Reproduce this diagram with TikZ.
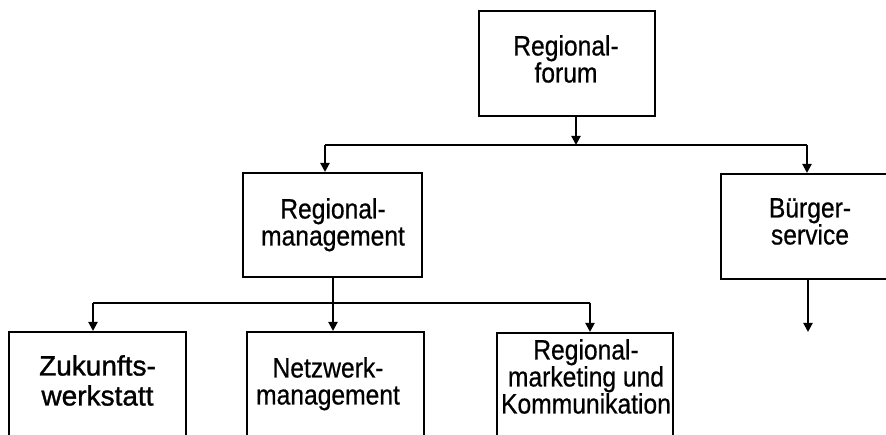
\documentclass[tikz,border=0pt]{standalone}
\usepackage{fontspec}
\setmainfont[FakeStretch=0.88,FakeBold=0.6]{Liberation Sans}
\newfontfamily\widefont[FakeBold=1.2]{Liberation Sans}
\usetikzlibrary{arrows.meta}
\begin{document}
\begin{tikzpicture}[x=1pt,y=-1pt,
  box/.style={draw,line width=2pt,minimum width=177pt,minimum height=105pt,inner sep=0pt},
  lbl/.style={anchor=north,inner sep=0pt,align=center,font=\fontsize{28}{27}\selectfont},
  conn/.style={line width=2pt},
  arr/.style={conn,-{Triangle[width=9pt,length=9pt]}}]
\useasboundingbox (0,0) rectangle (886,435);
\clip (0,0) rectangle (886,435);
% boxes
\node[box,minimum width=176pt] (top) at (567,63.5) {};
\node[box,minimum width=179pt,minimum height=104pt] (rm) at (332.5,225) {};
\node[box,minimum width=174pt] (bs) at (808,226.5) {};
\node[box] (zw) at (97.5,384.5) {};
\node[box] (nm) at (335.5,384.5) {};
\node[box,minimum width=176pt] (mk) at (585,385.5) {};
% labels
\node[lbl] (topl) at (566,35) {Regional-\\forum};
\node[lbl] (rml) at (333,198) {Regional-\\management};
\node[lbl] (bsl) at (810,198) {Bürger-\\service};
\node[lbl,font=\widefont\fontsize{28}{30}\selectfont] (zwl) at (97.5,355) {Zukunfts-\\werkstatt};
\node[lbl] (nml) at (328,357) {Netzwerk-\\management};
\node[lbl] (mkl) at (586,339) {Regional-\\marketing und\\Kommunikation};
% connectors
\coordinate (j0) at (576,145);
\coordinate (j1l) at (325,145);
\coordinate (j1r) at (807,145);
\coordinate (j2) at (333,303);
\coordinate (j2l) at (93,303);
\coordinate (j2r) at (590,303);
\coordinate (bsend) at (808,332);
\draw[arr] (top.south -| j0) -- (j0);
\draw[conn] (j1l) -- (j1r);
\draw[arr] (j1l) -- (j1l |- rm.north);
\draw[arr] (j1r) -- (j1r |- bs.north);
\draw[arr] (rm.south -| j2) -- (j2 |- nm.north);
\draw[conn] (j2l) -- (j2r);
\draw[arr] (j2l) -- (j2l |- zw.north);
\draw[arr] (j2r) -- (j2r |- mk.north);
\draw[arr] (bs.south -| bsend) -- (bsend);
\end{tikzpicture}
\end{document}
